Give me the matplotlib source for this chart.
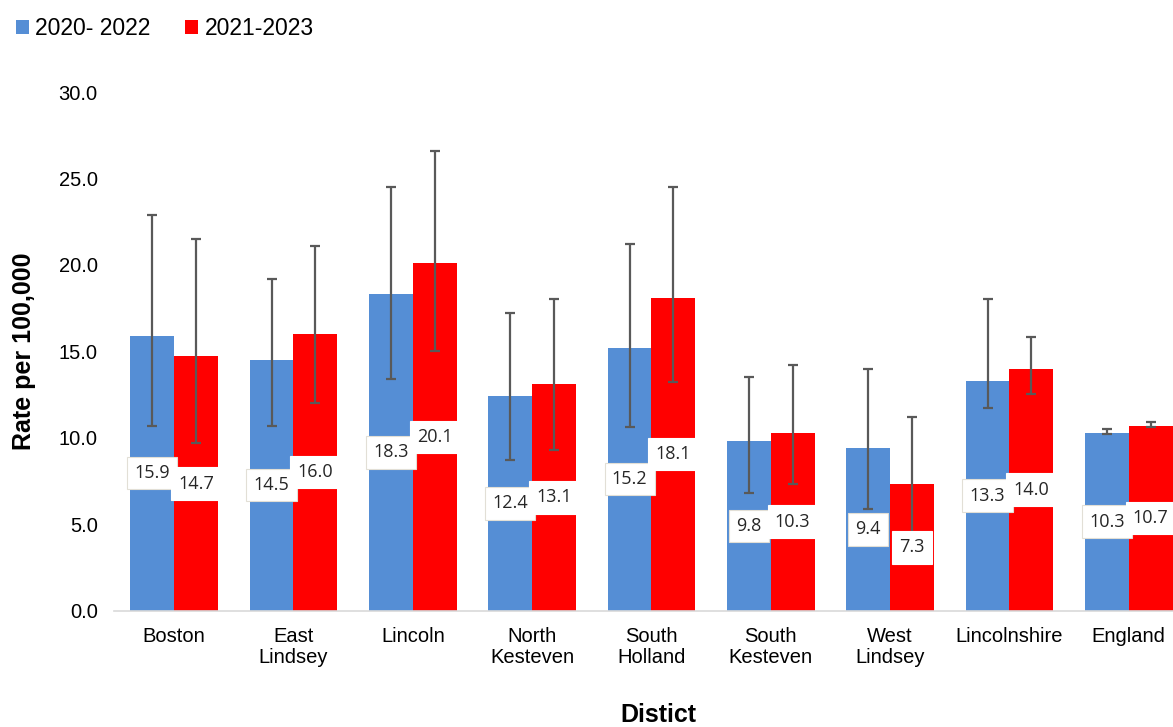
import numpy as np
import matplotlib
matplotlib.use("Agg")
import matplotlib.pyplot as plt

districts = ["Boston", "East\nLindsey", "Lincoln", "North\nKesteven", "South\nHolland",
             "South\nKesteven", "West\nLindsey", "Lincolnshire", "England"]

rate_2020 = [15.9, 14.5, 18.3, 12.4, 15.2, 9.8, 9.4, 13.3, 10.3]
low_2020 = [10.7, 10.7, 13.4, 8.7, 10.6, 6.8, 5.9, 11.7, 10.2]
high_2020 = [22.9, 19.2, 24.5, 17.2, 21.2, 13.5, 14.0, 18.0, 10.5]

rate_2021 = [14.7, 16.0, 20.1, 13.1, 18.1, 10.3, 7.3, 14.0, 10.7]
low_2021 = [9.7, 12.0, 15.0, 9.3, 13.2, 7.3, 4.5, 12.5, 10.6]
high_2021 = [21.5, 21.1, 26.6, 18.0, 24.5, 14.2, 11.2, 15.8, 10.9]

blue = "#558ed5"
red = "#ff0000"

plt.rcParams["font.family"] = ["Liberation Sans", "DejaVu Sans"]

fig = plt.figure(figsize=(11.73, 7.27), dpi=100)
ax = fig.add_axes([0.0976, 0.1602, 0.9024, 0.7132])

x = np.arange(len(districts))
w = 0.367

err_2020 = [np.array(rate_2020) - np.array(low_2020), np.array(high_2020) - np.array(rate_2020)]
err_2021 = [np.array(rate_2021) - np.array(low_2021), np.array(high_2021) - np.array(rate_2021)]

b1 = ax.bar(x - w / 2, rate_2020, w, color=blue, label="2020- 2022", zorder=2)
b2 = ax.bar(x + w / 2, rate_2021, w, color=red, label="2021-2023", zorder=2)
ax.errorbar(x - w / 2, rate_2020, yerr=err_2020, fmt="none", ecolor="#595959",
            elinewidth=1.6, capsize=3.5, capthick=1.6, zorder=3)
ax.errorbar(x + w / 2, rate_2021, yerr=err_2021, fmt="none", ecolor="#595959",
            elinewidth=1.6, capsize=3.5, capthick=1.6, zorder=3)

# value labels in the middle of each bar
for xs, vals, edge in [(x - w / 2, rate_2020, "#e2dfd6"), (x + w / 2, rate_2021, "white")]:
    for xi, v in zip(xs, vals):
        ax.text(xi, v / 2, f"{v:.1f}", ha="center", va="center", fontsize=13,
                family=["Open Sans", "DejaVu Sans"], color="#262626", zorder=4,
                bbox=dict(boxstyle="square,pad=0.4", fc="white", ec=edge, lw=0.8))

ax.set_xlim(-0.5, 8.371)
ax.set_ylim(0, 30)
ax.set_yticks(np.arange(0, 31, 5))
ax.set_yticklabels([f"{t:.1f}" for t in np.arange(0, 31, 5)])
ax.set_xticks(x)
ax.set_xticklabels(districts, linespacing=1.15)
ax.tick_params(axis="both", length=0, labelsize=14.5, colors="black")
ax.tick_params(axis="y", pad=12)
ax.tick_params(axis="x", pad=12)

for s in ["top", "right", "left"]:
    ax.spines[s].set_visible(False)
ax.spines["bottom"].set_color("#d9d9d9")
ax.spines["bottom"].set_linewidth(1.2)

ax.set_ylabel("Rate per 100,000", fontsize=18, fontweight="bold", labelpad=16)
fig.text(0.561, 0.017, "Distict", ha="center", va="center", fontsize=18, fontweight="bold")

fig.legend(handles=[b1, b2], loc="upper left", bbox_to_anchor=(-0.004, 1.005), ncol=2,
           frameon=False, fontsize=16.5, handlelength=0.55, handleheight=0.55,
           handletextpad=0.3, columnspacing=1.5)

fig.savefig("out.png", dpi=100)
